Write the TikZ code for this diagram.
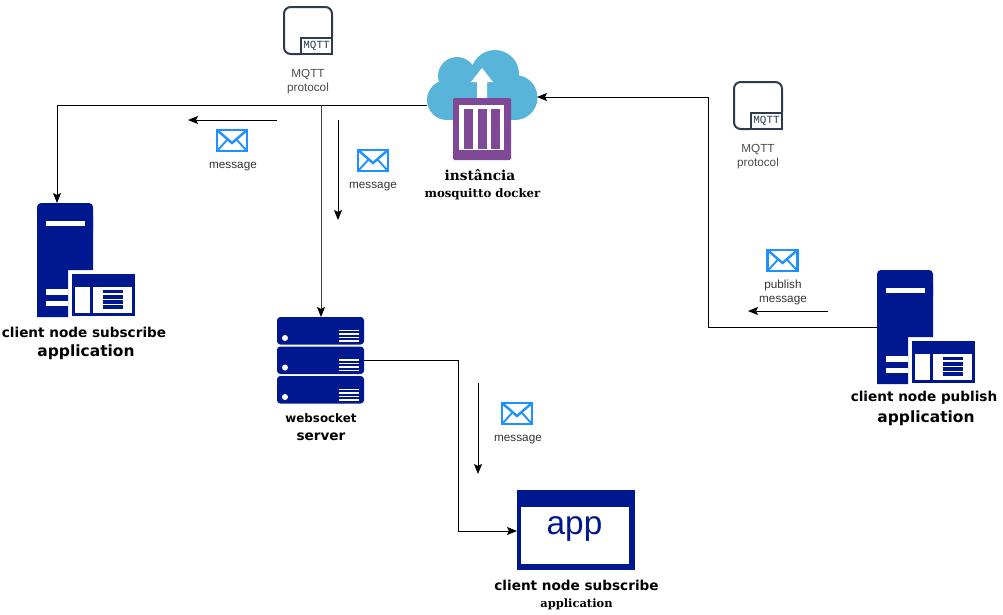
\documentclass[tikz,border=0pt]{standalone}
\usepackage{fontspec}
\setmainfont{Liberation Sans}
\setmonofont{Liberation Mono}
\newfontfamily\labelfont{DejaVu Sans Bold}
\newfontfamily\seriflabel{DejaVu Serif Bold}
\usetikzlibrary{arrows.meta}
\definecolor{navy}{HTML}{00188F}
\definecolor{cloudblue}{HTML}{59B4D9}
\definecolor{dockerpurple}{HTML}{804998}
\definecolor{mailblue}{HTML}{1E90FF}
\definecolor{mqttdark}{HTML}{2E3B4C}
\tikzset{
	flow/.style={-{Stealth[length=7.5pt,width=6pt,inset=1.5pt,color=black]}, line width=0.75pt},
	smalltext/.style={font=\fontsize{8.8pt}{11pt}\selectfont, align=center, text=black!80},
	nodetext/.style={font=\labelfont\fontsize{10.2pt}{14pt}\selectfont, align=center, inner sep=0pt},
	bigtext/.style={font=\labelfont\fontsize{11.6pt}{14pt}\selectfont, inner sep=0pt},
	pics/tower/.style={code={
		\fill[navy, rounded corners=3pt] (0, 0) rectangle (56, 30);
		\fill[navy] (0, 114) -- (0, 15) -- (56, 15) -- (56, 67) -- (31, 67) -- (31, 114) -- cycle;
		\fill[white] (9, 18) rectangle (48, 23);
		\fill[white] (9, 86) rectangle (31, 92);
		\fill[white] (9, 98) rectangle (31, 103);
		\fill[navy] (35, 71) rectangle (98, 113);
		\fill[white] (38, 84) rectangle (53, 110);
		\fill[white] (56, 84) rectangle (95, 110);
		\foreach \ybar in {86.5, 92, 97, 102}
			\fill[navy] (66, \ybar) rectangle (86, \ybar + 3.8);
		\coordinate (-top) at (20, 0);
		\coordinate (-side) at (0, 57);
	}},
	pics/mqtt/.style={code={
		\draw[mqttdark, line width=1.5pt, rounded corners=5pt] (16, 47) -- (0, 47) -- (0, 0) -- (48, 0) -- (48, 30);
		\draw[mqttdark, line width=1.6pt, fill=white] (17, 31) rectangle (48, 47);
		\node[font=\fontsize{8.2pt}{9pt}\selectfont\ttfamily, text=mqttdark, inner sep=0pt] (-name) at (32.5, 39) {MQTT};
	}},
	pics/mail/.style={code={
		\draw[mailblue, line width=1.8pt, fill=white] (0, 0) rectangle (30, 21);
		\draw[mailblue, line width=1.8pt] (0, 0) -- (15, 13) -- (30, 0);
		\draw[mailblue, line width=1.4pt] (0, 21) -- (10.5, 9.5) (30, 21) -- (19.5, 9.5);
	}},
	pics/rack/.style={code={
		\fill[navy, rounded corners=2.5pt] (0, 0) rectangle (87, 27.5);
		\fill[white] (8, 21) circle (3);
		\foreach \ybar in {14.5, 18, 21.5, 25}
			\draw[white, line width=0.8pt] (62, \ybar - 1) -- (82, \ybar - 1);
	}}
}
\begin{document}
\begin{tikzpicture}[x=0.75pt, y=-0.75pt]
	\useasboundingbox (0, 0) rectangle (1003, 614);

	% cloud and container
	\fill[cloudblue] (495, 74) circle (24) (457, 76) circle (19) (447, 100) circle (20) (515, 97.5) circle (22.5);
	\fill[cloudblue] (447, 90) rectangle (515, 120);
	\fill[cloudblue] (460, 70) rectangle (510, 95);
	\fill[white] (477, 100) -- (477, 82) -- (471, 82) -- (482, 68) -- (493, 82) -- (487, 82) -- (487, 100) -- cycle;
	\fill[dockerpurple, rounded corners=1pt] (453, 98) rectangle (511, 160);
	\fill[white] (459, 105) rectangle (504, 150);
	\foreach \xbar in {464, 477.5, 491}
		\fill[dockerpurple] (\xbar, 109) rectangle (\xbar + 9, 149);
	\coordinate (dockerleft) at (427, 105);
	\coordinate (dockerright) at (537, 97);
	\node[font=\seriflabel\fontsize{10.3pt}{13pt}\selectfont, inner sep=0pt] (instance) at (480, 175) {instância};
	\node[font=\seriflabel\fontsize{8.8pt}{12pt}\selectfont, inner sep=0pt] (docker) at (482.5, 194) {mosquitto docker};

	% mqtt icons
	\pic (mqttleft) at (284, 7) {mqtt};
	\pic (mqttright) at (734, 82) {mqtt};
	\node[smalltext, text=black!70] (protoleft) at (308, 81.5) {MQTT\\[-0.5pt]protocol};
	\node[smalltext, text=black!70] (protoright) at (758, 156.5) {MQTT\\[-0.5pt]protocol};

	% servers
	\pic (subnode) at (37, 203) {tower};
	\pic (pubnode) at (877, 270) {tower};
	\node[nodetext] (subtext) at (84, 332) {client node subscribe};
	\node[bigtext] (subapp) at (86, 352) {application};
	\node[nodetext] (pubtext) at (924, 398) {client node publish};
	\node[bigtext] (pubapp) at (926, 418) {application};

	\pic (rackone) at (277, 317) {rack};
	\pic (racktwo) at (277, 346.5) {rack};
	\pic (rackthree) at (277, 376) {rack};
	\coordinate (racktop) at (321, 317);
	\coordinate (rackside) at (364, 360);
	\node[nodetext, font=\labelfont\fontsize{8.9pt}{14pt}\selectfont] (wstext) at (321, 418) {websocket};
	\node[nodetext, font=\labelfont\fontsize{10.2pt}{14pt}\selectfont] (srvtext) at (321, 437) {server};

	% app window
	\fill[navy] (517, 490) rectangle (635, 570);
	\fill[white] (521, 507) rectangle (629, 564);
	\node[text=navy, font=\fontsize{25pt}{28pt}\selectfont, inner sep=0pt, anchor=base] (apptext) at (574.5, 534.5) {app};
	\coordinate (appleft) at (517, 531);
	\node[nodetext] (clienttext) at (576.5, 585) {client node subscribe};
	\node[font=\seriflabel\fontsize{8.6pt}{12pt}\selectfont, inner sep=0pt] (clientapp) at (576.5, 604) {application};

	% connectors
	\coordinate (branch) at (321, 105);
	\coordinate (pubcorner) at (708, 97);
	\coordinate (appcorner) at (458, 531);
	\draw[flow] (dockerleft) -| (subnode-top);
	\draw[flow, black!75] (branch) -- (racktop);
	\draw[flow] (pubnode-side) -| (pubcorner) -- (dockerright);
	\draw[flow] (rackside) -| (appcorner) -- (appleft);

	% message arrows
	\coordinate (mone) at (277, 120);
	\coordinate (mtwo) at (188, 120);
	\draw[flow] (mone) -- (mtwo);
	\coordinate (mthree) at (338, 120);
	\coordinate (mfour) at (338, 220);
	\draw[flow] (mthree) -- (mfour);
	\coordinate (mfive) at (478, 383);
	\coordinate (msix) at (478, 474);
	\draw[flow] (mfive) -- (msix);
	\coordinate (mseven) at (828, 311);
	\coordinate (meight) at (748, 311);
	\draw[flow] (mseven) -- (meight);

	% envelopes
	\pic (mailone) at (217, 130) {mail};
	\pic (mailtwo) at (358, 150) {mail};
	\pic (mailthree) at (502, 403) {mail};
	\pic (mailfour) at (767.5, 250) {mail};
	\node[smalltext] (msgone) at (233, 167) {message};
	\node[smalltext] (msgtwo) at (373, 187) {message};
	\node[smalltext] (msgthree) at (518, 440) {message};
	\node[smalltext] (msgfour) at (783, 292) {publish\\[-0.5pt]message};
\end{tikzpicture}
\end{document}
